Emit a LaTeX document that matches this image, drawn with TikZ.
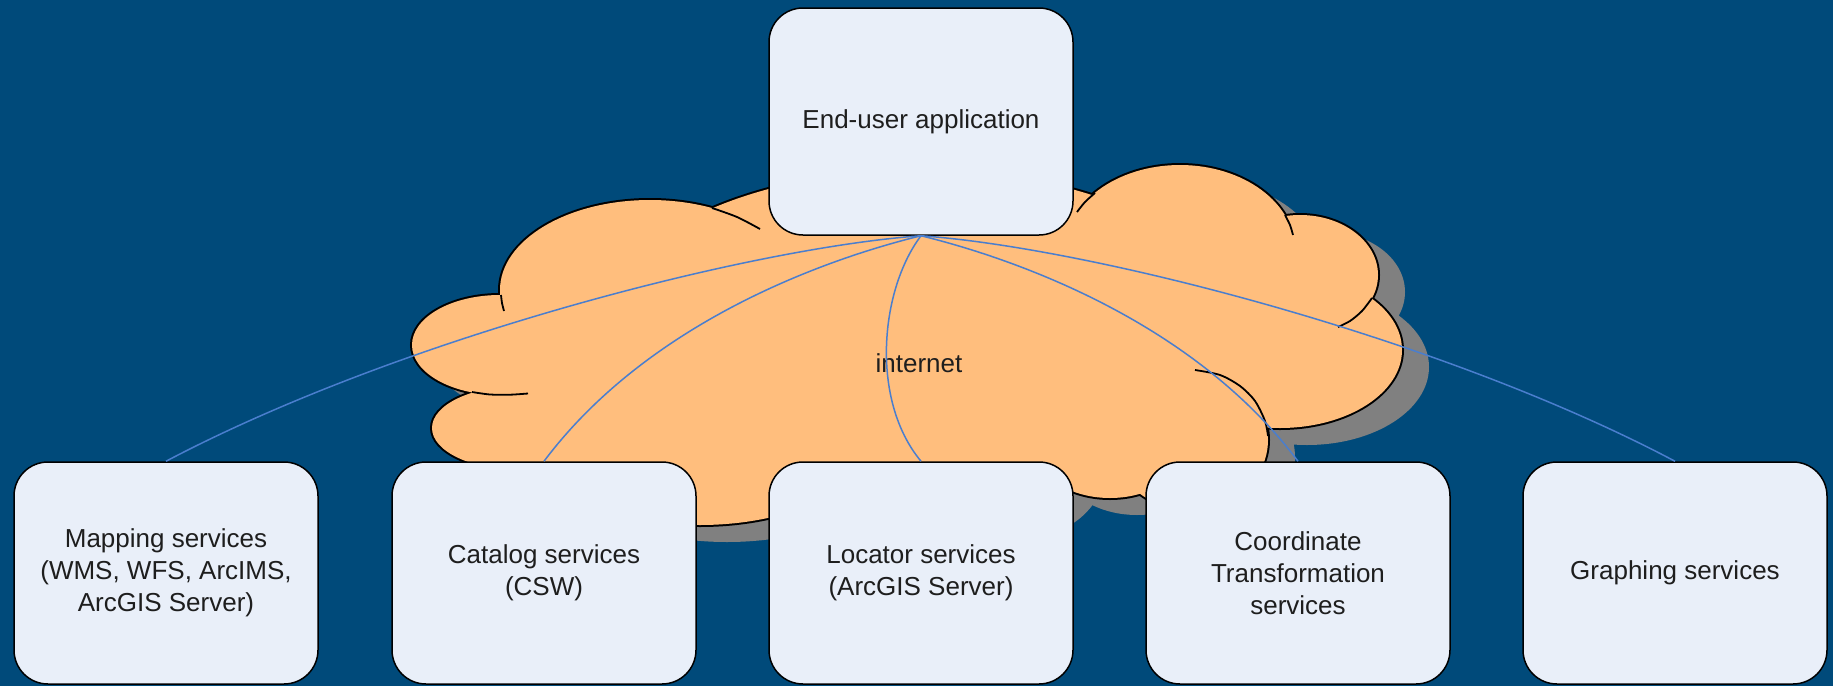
\documentclass[tikz,border=0pt]{standalone}
\usepackage{fontspec}
\setmainfont{Liberation Sans}
\definecolor{bgc}{RGB}{0,74,122}
\definecolor{boxfill}{RGB}{233,239,249}
\definecolor{cloudc}{RGB}{255,190,125}
\definecolor{shadowc}{RGB}{128,128,128}
\definecolor{connc}{RGB}{74,126,206}
\definecolor{textc}{RGB}{30,30,30}
\newcommand\mylobes{%
 (650,290) ellipse [x radius=150, y radius=90]
 (500,345) ellipse [x radius=88, y radius=50]
 (520,428) ellipse [x radius=88, y radius=42]
 (590,470) ellipse [x radius=110, y radius=60]
 (640,380) ellipse [x radius=150, y radius=70]
 (700,440) ellipse [x radius=170, y radius=85]
 (920,330) ellipse [x radius=320, y radius=160]
 (1000,445) ellipse [x radius=80, y radius=75]
 (1110,440) ellipse [x radius=80, y radius=58]
 (1190,440) ellipse [x radius=78, y radius=70]
 (1180,250) ellipse [x radius=115, y radius=85]
 (1300,275) ellipse [x radius=78, y radius=60]
 (1280,350) ellipse [x radius=122, y radius=78]}
\begin{document}
\begin{tikzpicture}[x=0.5pt,y=-0.5pt,
  boxbase/.style={draw=black, line width=0.75pt, fill=boxfill, rounded corners=17pt,
    minimum width=152pt, align=center, inner sep=0pt, text=textc,
    font=\fontsize{13}{16}\selectfont},
  topbox/.style={boxbase, minimum height=113.5pt},
  botbox/.style={boxbase, minimum height=111pt},
  conn/.style={draw=connc, line width=0.75pt},
  tail/.style={draw=black, line width=0.9pt}]
\fill[bgc] (0,0) rectangle (1833,686);
\useasboundingbox (0,0) rectangle (1833,686);
% cloud
\fill[shadowc, shift={(27,17)}] \mylobes;
\draw[black, line width=2pt] \mylobes;
\fill[cloudc] \mylobes;
\draw[tail] plot[smooth] coordinates {(712,208) (737,217) (760,229)};
\draw[tail] plot[smooth] coordinates {(472,392) (490,394.5) (510,394.7) (528,393.5)};
\draw[tail] plot[smooth] coordinates {(501,295) (502,303) (504,311)};
\draw[tail] plot[smooth] coordinates {(1095,193) (1085,202) (1077,212)};
\draw[tail] plot[smooth] coordinates {(1285,215) (1290,225) (1293,235)};
\draw[tail] plot[smooth] coordinates {(1372,298) (1362,311) (1350,321) (1338,327)};
\draw[tail] plot[smooth] coordinates {(1195,370) (1220,375) (1240,386) (1255,401) (1265,421) (1268,436)};
\node[text=textc, font=\fontsize{13}{16}\selectfont] (inet) at (919,363) {internet};
% boxes
\node[topbox] (app) at (921,121.5) {End-user application};
\node[botbox] (map) at (166,573) {Mapping services\\(WMS, WFS, ArcIMS,\\ArcGIS Server)};
\node[botbox] (cat) at (544,573) {Catalog services\\(CSW)};
\node[botbox] (loc) at (921,573) {Locator services\\(ArcGIS Server)};
\node[botbox] (crd) at (1298,573) {Coordinate\\Transformation\\services};
\node[botbox] (grp) at (1675,573) {Graphing services};
% connectors
\draw[conn] (app.south) .. controls (750,248) and (400,338) .. (map.north);
\draw[conn] (app.south) .. controls (830,258) and (650,320) .. (cat.north);
\draw[conn] (app.south) .. controls (880,290) and (870,400) .. (loc.north);
\draw[conn] (app.south) .. controls (1012,258) and (1192,320) .. (crd.north);
\draw[conn] (app.south) .. controls (1092,248) and (1442,338) .. (grp.north);
\end{tikzpicture}
\end{document}
